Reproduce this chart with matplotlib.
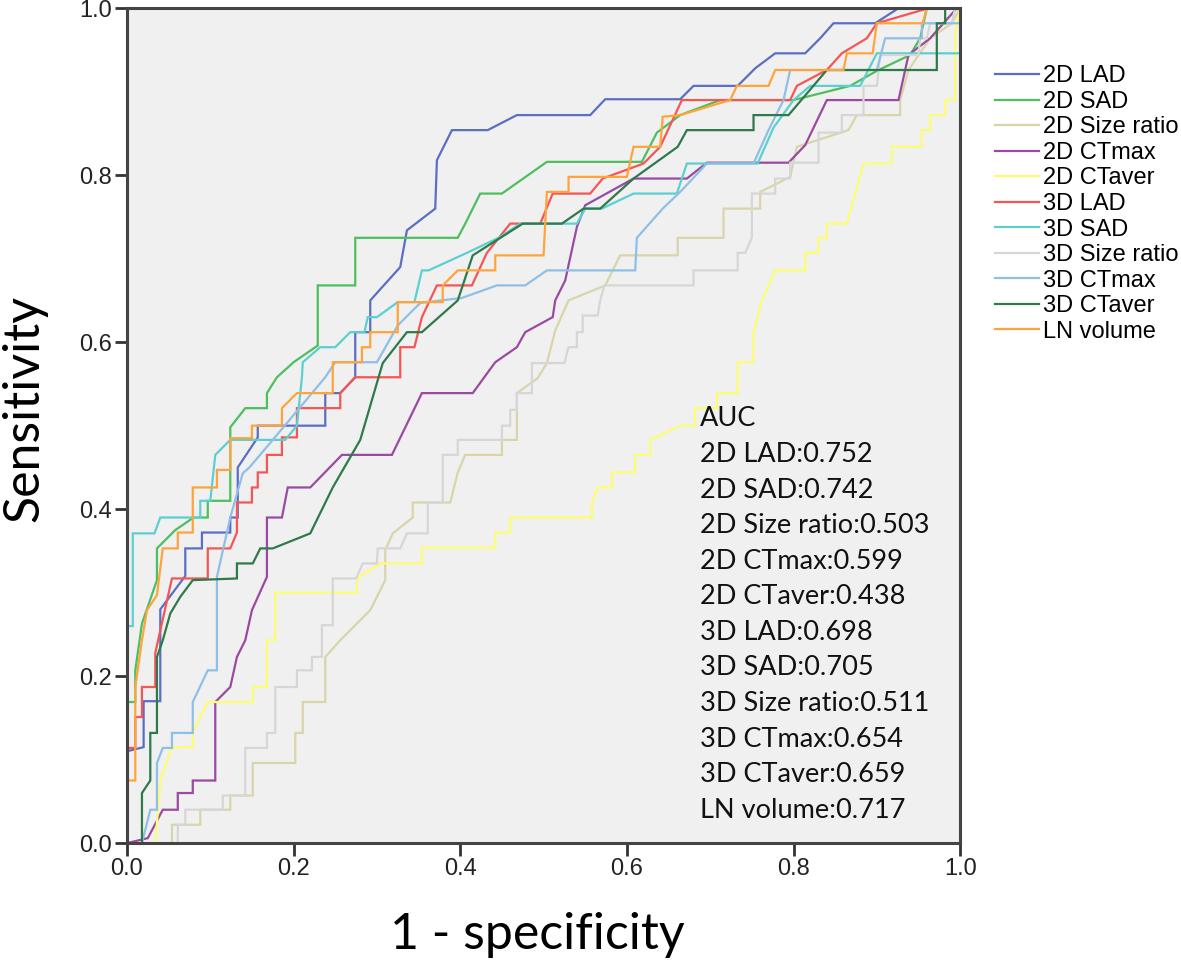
import numpy as np
import matplotlib.pyplot as plt

# ROC curves: (1 - specificity, sensitivity)
lad2d_x = [0, 0.0, 0.02, 0.02, 0.04, 0.04, 0.07, 0.07, 0.09, 0.09, 0.124, 0.124, 0.133, 0.133, 0.157, 0.157, 0.238, 0.238, 0.256, 0.274, 0.274, 0.292, 0.292, 0.328, 0.336, 0.37, 0.372, 0.39, 0.433, 0.468, 0.556, 0.574, 0.664, 0.68, 0.733, 0.754, 0.778, 0.814, 0.832, 0.848, 0.898, 0.926, 1]
lad2d_y = [0, 0.11, 0.115, 0.17, 0.17, 0.28, 0.32, 0.353, 0.353, 0.372, 0.372, 0.39, 0.39, 0.45, 0.486, 0.5, 0.5, 0.539, 0.539, 0.558, 0.612, 0.612, 0.65, 0.69, 0.734, 0.76, 0.818, 0.854, 0.854, 0.872, 0.872, 0.891, 0.891, 0.907, 0.907, 0.928, 0.946, 0.946, 0.964, 0.982, 0.982, 1.0, 1]

sad2d_x = [0, 0, 0.01, 0.01, 0.018, 0.036, 0.036, 0.058, 0.08, 0.097, 0.097, 0.124, 0.124, 0.142, 0.168, 0.168, 0.18, 0.2, 0.229, 0.229, 0.274, 0.274, 0.397, 0.406, 0.424, 0.45, 0.504, 0.618, 0.636, 0.664, 0.712, 0.8, 0.868, 0.9, 0.94, 0.952, 0.96, 1]
sad2d_y = [0, 0.169, 0.169, 0.207, 0.263, 0.315, 0.353, 0.375, 0.39, 0.39, 0.41, 0.41, 0.498, 0.521, 0.521, 0.539, 0.558, 0.576, 0.596, 0.668, 0.668, 0.725, 0.725, 0.742, 0.778, 0.778, 0.816, 0.816, 0.851, 0.872, 0.89, 0.89, 0.907, 0.925, 0.944, 0.964, 1.0, 1]

ratio2d_x = [0, 0.054, 0.054, 0.088, 0.088, 0.124, 0.124, 0.151, 0.151, 0.202, 0.202, 0.211, 0.211, 0.238, 0.238, 0.256, 0.274, 0.292, 0.31, 0.31, 0.319, 0.343, 0.343, 0.388, 0.397, 0.406, 0.45, 0.45, 0.468, 0.468, 0.493, 0.504, 0.514, 0.53, 0.574, 0.592, 0.661, 0.661, 0.716, 0.716, 0.76, 0.76, 0.796, 0.804, 0.866, 0.876, 0.928, 0.928, 0.938, 0.964, 0.99, 1]
ratio2d_y = [0, 0, 0.022, 0.022, 0.04, 0.04, 0.057, 0.057, 0.096, 0.096, 0.132, 0.132, 0.169, 0.169, 0.223, 0.243, 0.261, 0.279, 0.315, 0.351, 0.371, 0.39, 0.408, 0.408, 0.444, 0.465, 0.465, 0.483, 0.483, 0.539, 0.557, 0.575, 0.614, 0.65, 0.668, 0.704, 0.704, 0.725, 0.725, 0.76, 0.76, 0.78, 0.798, 0.834, 0.854, 0.872, 0.872, 0.89, 0.926, 0.964, 0.982, 1]

ctmax2d_x = [0, 0.025, 0.043, 0.061, 0.061, 0.079, 0.079, 0.106, 0.106, 0.124, 0.132, 0.142, 0.15, 0.168, 0.168, 0.186, 0.193, 0.22, 0.258, 0.318, 0.354, 0.415, 0.442, 0.468, 0.478, 0.511, 0.514, 0.526, 0.54, 0.55, 0.608, 0.672, 0.696, 0.794, 0.814, 0.84, 0.926, 0.938, 0.964, 0.996, 1]
ctmax2d_y = [0, 0.006, 0.04, 0.04, 0.06, 0.06, 0.075, 0.075, 0.169, 0.187, 0.223, 0.243, 0.279, 0.319, 0.39, 0.39, 0.426, 0.426, 0.465, 0.465, 0.539, 0.539, 0.576, 0.594, 0.612, 0.63, 0.65, 0.674, 0.738, 0.764, 0.796, 0.796, 0.815, 0.815, 0.836, 0.89, 0.89, 0.944, 0.964, 1.0, 1]

ctaver2d_x = [0, 0.034, 0.04, 0.054, 0.079, 0.079, 0.097, 0.151, 0.151, 0.168, 0.168, 0.178, 0.178, 0.276, 0.276, 0.304, 0.354, 0.354, 0.442, 0.442, 0.46, 0.46, 0.558, 0.558, 0.565, 0.582, 0.582, 0.61, 0.61, 0.628, 0.628, 0.664, 0.682, 0.682, 0.708, 0.708, 0.733, 0.733, 0.752, 0.752, 0.762, 0.778, 0.814, 0.814, 0.83, 0.83, 0.84, 0.84, 0.864, 0.884, 0.918, 0.918, 0.954, 0.954, 0.964, 0.964, 0.982, 0.982, 0.994, 0.994, 1]
ctaver2d_y = [0, 0, 0.075, 0.115, 0.115, 0.133, 0.169, 0.169, 0.187, 0.187, 0.243, 0.243, 0.3, 0.3, 0.317, 0.335, 0.335, 0.354, 0.354, 0.372, 0.372, 0.39, 0.39, 0.408, 0.426, 0.426, 0.444, 0.444, 0.465, 0.465, 0.483, 0.5, 0.5, 0.521, 0.521, 0.539, 0.539, 0.576, 0.576, 0.612, 0.65, 0.686, 0.686, 0.707, 0.707, 0.725, 0.725, 0.742, 0.742, 0.814, 0.814, 0.834, 0.834, 0.854, 0.854, 0.872, 0.872, 0.89, 0.89, 0.97, 1]

lad3d_x = [0, 0, 0.01, 0.01, 0.018, 0.018, 0.034, 0.034, 0.054, 0.097, 0.097, 0.124, 0.132, 0.132, 0.15, 0.15, 0.157, 0.157, 0.168, 0.168, 0.186, 0.186, 0.204, 0.204, 0.256, 0.256, 0.274, 0.328, 0.328, 0.345, 0.354, 0.372, 0.414, 0.432, 0.46, 0.496, 0.511, 0.556, 0.571, 0.62, 0.64, 0.666, 0.796, 0.804, 0.84, 0.858, 0.888, 0.9, 0.962, 1]
lad3d_y = [0, 0.114, 0.114, 0.151, 0.151, 0.187, 0.187, 0.228, 0.317, 0.317, 0.353, 0.353, 0.372, 0.408, 0.408, 0.426, 0.426, 0.444, 0.444, 0.465, 0.465, 0.486, 0.486, 0.521, 0.521, 0.539, 0.558, 0.558, 0.594, 0.594, 0.63, 0.668, 0.668, 0.707, 0.742, 0.742, 0.778, 0.778, 0.796, 0.814, 0.834, 0.89, 0.89, 0.907, 0.926, 0.946, 0.964, 0.982, 1.0, 1]

sad3d_x = [0, 0, 0.007, 0.007, 0.033, 0.04, 0.088, 0.088, 0.1, 0.106, 0.124, 0.19, 0.204, 0.21, 0.211, 0.232, 0.25, 0.268, 0.285, 0.289, 0.3, 0.325, 0.345, 0.354, 0.362, 0.408, 0.448, 0.472, 0.54, 0.55, 0.57, 0.608, 0.66, 0.672, 0.757, 0.776, 0.8, 0.82, 0.88, 0.9, 1, 1]
sad3d_y = [0, 0.26, 0.26, 0.371, 0.371, 0.39, 0.39, 0.41, 0.41, 0.465, 0.483, 0.483, 0.5, 0.558, 0.576, 0.594, 0.594, 0.612, 0.612, 0.63, 0.63, 0.648, 0.648, 0.686, 0.686, 0.707, 0.726, 0.742, 0.742, 0.76, 0.76, 0.778, 0.778, 0.814, 0.814, 0.857, 0.89, 0.907, 0.907, 0.946, 0.946, 1]

ratio3d_x = [0, 0.061, 0.061, 0.07, 0.07, 0.115, 0.115, 0.142, 0.142, 0.168, 0.168, 0.178, 0.178, 0.204, 0.204, 0.222, 0.222, 0.234, 0.234, 0.247, 0.247, 0.275, 0.283, 0.3, 0.301, 0.328, 0.336, 0.361, 0.361, 0.379, 0.379, 0.397, 0.397, 0.45, 0.45, 0.46, 0.46, 0.468, 0.468, 0.486, 0.486, 0.525, 0.53, 0.54, 0.54, 0.547, 0.547, 0.565, 0.568, 0.573, 0.68, 0.68, 0.733, 0.733, 0.742, 0.75, 0.75, 0.778, 0.778, 0.796, 0.796, 0.83, 0.83, 0.858, 0.858, 0.884, 0.884, 0.9, 0.904, 0.95, 0.952, 0.96, 0.964, 0.99, 0.994, 1]
ratio3d_y = [0, 0, 0.022, 0.022, 0.04, 0.04, 0.057, 0.057, 0.114, 0.114, 0.132, 0.132, 0.187, 0.187, 0.207, 0.207, 0.223, 0.223, 0.261, 0.261, 0.317, 0.317, 0.335, 0.335, 0.353, 0.353, 0.371, 0.371, 0.408, 0.408, 0.465, 0.465, 0.483, 0.483, 0.5, 0.5, 0.519, 0.519, 0.539, 0.539, 0.575, 0.575, 0.594, 0.594, 0.612, 0.612, 0.632, 0.632, 0.65, 0.668, 0.668, 0.686, 0.686, 0.707, 0.707, 0.725, 0.778, 0.778, 0.796, 0.796, 0.815, 0.815, 0.851, 0.851, 0.872, 0.872, 0.907, 0.907, 0.944, 0.944, 0.964, 0.964, 0.982, 0.982, 1.0, 1]

ctmax3d_x = [0, 0.018, 0.028, 0.036, 0.036, 0.043, 0.054, 0.054, 0.079, 0.079, 0.097, 0.108, 0.108, 0.124, 0.139, 0.147, 0.175, 0.238, 0.25, 0.3, 0.325, 0.352, 0.402, 0.444, 0.478, 0.504, 0.61, 0.612, 0.643, 0.664, 0.696, 0.752, 0.77, 0.788, 0.796, 0.9, 0.91, 0.954, 0.954, 1, 1]
ctmax3d_y = [0, 0, 0.04, 0.04, 0.096, 0.114, 0.114, 0.132, 0.132, 0.169, 0.207, 0.207, 0.319, 0.39, 0.443, 0.45, 0.483, 0.558, 0.576, 0.576, 0.62, 0.647, 0.653, 0.668, 0.668, 0.686, 0.686, 0.725, 0.76, 0.78, 0.814, 0.814, 0.854, 0.89, 0.926, 0.926, 0.964, 0.964, 0.982, 0.982, 1]

ctaver3d_x = [0, 0.018, 0.018, 0.028, 0.028, 0.036, 0.036, 0.043, 0.052, 0.064, 0.079, 0.132, 0.132, 0.151, 0.16, 0.175, 0.22, 0.247, 0.28, 0.307, 0.336, 0.354, 0.397, 0.415, 0.475, 0.522, 0.548, 0.568, 0.608, 0.661, 0.672, 0.752, 0.752, 0.794, 0.84, 0.972, 0.972, 0.982, 0.982, 1]
ctaver3d_y = [0, 0, 0.06, 0.075, 0.132, 0.132, 0.223, 0.243, 0.275, 0.295, 0.315, 0.317, 0.335, 0.335, 0.353, 0.353, 0.371, 0.426, 0.483, 0.575, 0.612, 0.612, 0.65, 0.704, 0.742, 0.742, 0.76, 0.76, 0.796, 0.834, 0.854, 0.854, 0.872, 0.872, 0.926, 0.926, 0.982, 0.982, 1.0, 1]

lnvol_x = [0, 0, 0.01, 0.01, 0.018, 0.024, 0.036, 0.043, 0.061, 0.061, 0.079, 0.079, 0.108, 0.108, 0.124, 0.124, 0.15, 0.15, 0.186, 0.186, 0.204, 0.247, 0.247, 0.282, 0.282, 0.292, 0.292, 0.325, 0.325, 0.379, 0.379, 0.397, 0.442, 0.442, 0.5, 0.504, 0.53, 0.53, 0.6, 0.608, 0.64, 0.643, 0.664, 0.724, 0.732, 0.77, 0.778, 0.86, 0.864, 0.895, 0.9, 0.955, 0.96, 1]
lnvol_y = [0, 0.075, 0.075, 0.187, 0.243, 0.279, 0.297, 0.353, 0.353, 0.372, 0.372, 0.426, 0.426, 0.447, 0.447, 0.485, 0.485, 0.5, 0.5, 0.521, 0.539, 0.539, 0.576, 0.576, 0.594, 0.594, 0.612, 0.612, 0.648, 0.648, 0.668, 0.686, 0.686, 0.704, 0.704, 0.78, 0.78, 0.798, 0.798, 0.834, 0.834, 0.87, 0.872, 0.89, 0.907, 0.907, 0.926, 0.926, 0.946, 0.946, 0.982, 0.982, 1.0, 1]

names = ['2D LAD', '2D SAD', '2D Size ratio', '2D CTmax', '2D CTaver',
         '3D LAD', '3D SAD', '3D Size ratio', '3D CTmax', '3D CTaver', 'LN volume']
auc = ['0.752', '0.742', '0.503', '0.599', '0.438',
       '0.698', '0.705', '0.511', '0.654', '0.659', '0.717']
colors = ['#5b6fc2', '#4cbf5e', '#d9d5aa', '#9a4aa0', '#fdfd72',
          '#f45656', '#5ccfd0', '#d6d6d6', '#90bfe6', '#2f7a4a', '#ffa43c']

curves = [(lad2d_x, lad2d_y), (sad2d_x, sad2d_y), (ratio2d_x, ratio2d_y),
          (ctmax2d_x, ctmax2d_y), (ctaver2d_x, ctaver2d_y), (lad3d_x, lad3d_y),
          (sad3d_x, sad3d_y), (ratio3d_x, ratio3d_y), (ctmax3d_x, ctmax3d_y),
          (ctaver3d_x, ctaver3d_y), (lnvol_x, lnvol_y)]

plt.rcParams['font.family'] = ['Liberation Sans', 'DejaVu Sans']

fig = plt.figure(figsize=(11.81, 9.68), dpi=100)
ax = fig.add_axes([0.1075, 0.129, 0.7055, 0.8625])
ax.set_facecolor('#f0f0f0')

for (x, y), c, n in zip(curves, colors, names):
    ax.plot(x, y, color=c, lw=1.6, label=n, solid_joinstyle='miter')

ax.set_xlim(0, 1)
ax.set_ylim(0, 1)
ticks = np.arange(0, 1.01, 0.2)
ax.set_xticks(ticks, ['%.1f' % t for t in ticks])
ax.set_yticks(ticks, ['%.1f' % t for t in ticks])
ax.tick_params(length=9, width=2, color='#333333', pad=2,
               labelsize=17, labelcolor='#222222')
for s in ax.spines.values():
    s.set_linewidth(2.2)
    s.set_color('#444444')

ax.set_xlabel('1 - specificity', fontsize=36, family='Lato')
ax.set_ylabel('Sensitivity', fontsize=36, family='Lato')
ax.xaxis.set_label_coords(0.493, -0.083)
ax.yaxis.set_label_coords(-0.096, 0.52)

# AUC annotation
lines = ['AUC'] + ['%s:%s' % (n, a) for n, a in zip(names, auc)]
for i, t in enumerate(lines):
    ax.text(0.688, 0.508 - i * 0.0426, t, fontsize=19.5, family='Lato',
            va='center', ha='left', color='#111111')

ax.legend(loc='upper left', bbox_to_anchor=(1.03, 0.943), frameon=False,
          handlelength=1.9, handletextpad=0.15, labelspacing=0.15,
          borderaxespad=0, prop={'family': 'Liberation Sans', 'size': 17})

fig.savefig('out.png', dpi=100)
